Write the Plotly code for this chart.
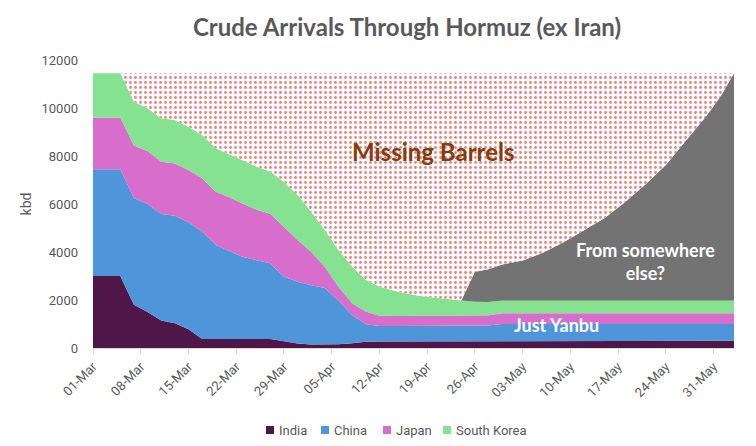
import plotly.graph_objects as go

# Dates of the readings (2026 season, daily data thinned to key points)
dates = [
    "2026-03-01", "2026-03-05", "2026-03-07", "2026-03-09", "2026-03-11", "2026-03-13",
    "2026-03-15", "2026-03-17", "2026-03-19", "2026-03-21", "2026-03-23", "2026-03-25",
    "2026-03-27", "2026-03-29", "2026-03-31", "2026-04-02", "2026-04-04", "2026-04-06",
    "2026-04-08", "2026-04-10", "2026-04-12", "2026-04-15", "2026-04-18", "2026-04-21",
    "2026-04-24", "2026-04-26", "2026-04-28", "2026-04-30", "2026-05-03", "2026-05-06",
    "2026-05-09", "2026-05-12", "2026-05-15", "2026-05-18", "2026-05-21", "2026-05-24",
    "2026-05-26", "2026-05-28", "2026-05-30", "2026-06-01", "2026-06-03",
]

# kbd by destination
india = [3000, 3000, 1800, 1500, 1150, 1030, 780, 380, 380, 380, 380, 380,
         380, 280, 190, 150, 150, 160, 200, 260, 270, 270, 270, 270,
         270, 270, 280, 300, 300, 300, 300, 300, 300, 300, 300, 300,
         300, 300, 300, 300, 300]
china = [4450, 4450, 4450, 4500, 4430, 4480, 4460, 4470, 3910, 3650, 3410, 3280,
         3150, 2690, 2570, 2460, 2350, 1810, 1175, 730, 650, 650, 650, 650,
         650, 650, 660, 700, 700, 700, 700, 700, 700, 700, 700, 700,
         700, 700, 700, 700, 700]
japan = [2150, 2150, 2190, 2210, 2180, 2180, 2180, 2220, 2220, 2250, 2220, 2100,
         2060, 2080, 1740, 1400, 890, 580, 490, 530, 420, 410, 410, 410,
         410, 410, 420, 450, 450, 450, 450, 450, 450, 450, 450, 450,
         450, 450, 450, 450, 450]
south_korea = [1850, 1850, 1830, 1780, 1810, 1810, 1800, 1810, 1810, 1770, 1800, 1790,
               1760, 1870, 1880, 1670, 1530, 1530, 1530, 1320, 1220, 990, 840, 740,
               640, 600, 560, 530, 530, 530, 530, 530, 530, 530, 530, 530,
               530, 530, 530, 530, 530]
elsewhere = [0, 0, 0, 0, 0, 0, 0, 0, 0, 0, 0, 0,
             0, 0, 0, 0, 0, 0, 0, 0, 0, 0, 0, 0,
             0, 1250, 1360, 1500, 1670, 1990, 2430, 2930, 3430, 4090, 4830, 5640,
             6330, 6990, 7710, 8490, 9470]

pre_war_kbd = 11450  # flows before the disruption

# missing barrels = pre-war level minus what still arrives
arrived = [a + b + c + d + e for a, b, c, d, e in zip(india, china, japan, south_korea, elsewhere)]
missing = [max(pre_war_kbd - t, 0) for t in arrived]

tick_vals = ["2026-03-01", "2026-03-08", "2026-03-15", "2026-03-22", "2026-03-29",
             "2026-04-05", "2026-04-12", "2026-04-19", "2026-04-26", "2026-05-03",
             "2026-05-10", "2026-05-17", "2026-05-24", "2026-05-31"]

series = [
    ("India", india, "#4E1747"),
    ("China", china, "#4E95D9"),
    ("Japan", japan, "#D86ECC"),
    ("South Korea", south_korea, "#84E291"),
    ("From somewhere else", elsewhere, "#737373"),
]

fig = go.Figure()
for name, vals, color in series:
    fig.add_trace(go.Scatter(
        x=dates, y=vals, name=name, mode="lines", stackgroup="one",
        line=dict(width=0, color=color), fillcolor=color, showlegend=False,
    ))

fig.add_trace(go.Scatter(
    x=dates, y=missing, name="Missing Barrels", mode="lines", stackgroup="one",
    line=dict(width=0, color="red"), fillcolor="white",
    fillpattern=dict(shape=".", fgcolor="#DD0000", bgcolor="white", size=5, solidity=0.25),
    showlegend=False,
))

label_font = "Lato"
fig.add_annotation(x="2026-04-20", y=8170, text="<b>Missing Barrels</b>", showarrow=False,
                   font=dict(family=label_font, size=24, color="#843C0C"))
fig.add_annotation(x="2026-05-21", y=3600, text="<b>From somewhere<br>else?</b>", showarrow=False,
                   font=dict(family=label_font, size=18, color="white"))
fig.add_annotation(x="2026-05-08", y=960, text="<b>Just Yanbu</b>", showarrow=False,
                   font=dict(family=label_font, size=18, color="white"))

# hand-placed legend (tight square swatches like the original)
plot_l, plot_w, plot_b, plot_h = 85, 641, 340, 288
legend_y = 422
legend_items = [("India", 258), ("China", 313), ("Japan", 375), ("South Korea", 435)]
for (name, px_x), (_, _, color) in zip(legend_items, series):
    x0 = (px_x - plot_l) / plot_w
    yc = (plot_b - legend_y) / plot_h
    fig.add_shape(type="rect", xref="paper", yref="paper",
                  x0=x0, x1=x0 + 8 / plot_w, y0=yc - 4 / plot_h, y1=yc + 4 / plot_h,
                  fillcolor=color, line=dict(width=0))
    fig.add_annotation(xref="paper", yref="paper", x=x0 + 11 / plot_w, y=yc,
                       xanchor="left", yanchor="middle", showarrow=False, text=name,
                       font=dict(size=13, color="#595959"))

# the page body adds an 8px margin, so the figure is 8px smaller each way
fig.update_layout(
    width=748, height=438,
    margin=dict(l=85, r=22, t=52, b=98, autoexpand=False),
    paper_bgcolor="white", plot_bgcolor="white",
    font=dict(family="Roboto", size=13, color="#595959"),
    title=dict(text="<b>Crude Arrivals Through Hormuz (ex Iran)</b>",
               x=399 / 748, xref="container", xanchor="center", y=1 - 20 / 438, yanchor="middle",
               font=dict(family=label_font, size=24, color="#595959")),
    showlegend=False,
    hovermode=False,
)
fig.update_xaxes(
    type="date", range=["2026-03-01", "2026-06-03"],
    tickvals=tick_vals, tickformat="%d-%b", tickangle=-45,
    showgrid=False, showline=True, linecolor="#D9D9D9",
    ticks="outside", ticklen=5, tickcolor="#D9D9D9", automargin=False,
)
fig.update_yaxes(
    range=[0, 12000], dtick=2000, tickformat="d", showgrid=True, gridcolor="#D9D9D9",
    zeroline=False, ticklabelstandoff=14, automargin=False,
    title=dict(text="kbd", standoff=6, font=dict(size=14, color="#595959")),
)

fig.write_html("out.html")
